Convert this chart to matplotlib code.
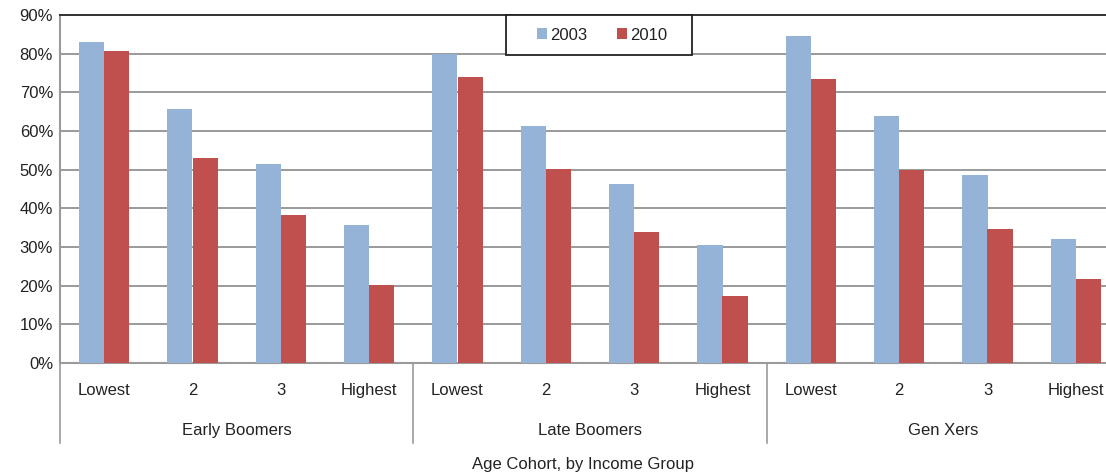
import numpy as np
import matplotlib.pyplot as plt
from matplotlib.lines import Line2D
from matplotlib.patches import Rectangle, Patch
from matplotlib.transforms import blended_transform_factory

plt.rcParams['font.family'] = ['Liberation Sans', 'DejaVu Sans']

# dados
coortes = ['Early Boomers', 'Late Boomers', 'Gen Xers']
grupos_renda = ['Lowest', '2', '3', 'Highest']
valores_2003 = [83.0, 65.8, 51.4, 35.8,
                80.0, 61.2, 46.4, 30.5,
                84.6, 63.8, 48.5, 32.1]
valores_2010 = [80.8, 52.9, 38.2, 20.1,
                73.9, 50.1, 33.8, 17.4,
                73.4, 49.8, 34.6, 21.6]
anos = ['2003', '2010']

cor_2003 = '#95B3D7'
cor_2010 = '#C0504D'
cor_grade = '#9a9a9a'

W, H = 1106, 474
fig = plt.figure(figsize=(W / 100, H / 100), dpi=100)
# area do grafico em pixels: esquerda 60, topo 15, base 363 (continua alem da borda direita)
ax = fig.add_axes([60 / W, (H - 363) / H, (1120 - 60) / W, (363 - 15) / H])

n = len(valores_2003)
x = np.arange(n)
larg = 0.285
ax.bar(x - larg / 2, valores_2003, larg, color=cor_2003, zorder=3)
ax.bar(x + larg / 2, valores_2010, larg, color=cor_2010, zorder=3)

ax.set_xlim(-0.5, n - 0.5)
ax.set_ylim(0, 90)
ax.set_yticks(np.arange(0, 91, 10))
ax.set_yticklabels([f'{v}%' for v in range(0, 91, 10)], fontsize=12, color='#222222')
ax.tick_params(axis='y', length=0, pad=5)
ax.set_xticks([])
ax.yaxis.grid(True, color=cor_grade, linewidth=1.4, zorder=0)
ax.set_axisbelow(True)

for lado in ['left', 'bottom']:
    ax.spines[lado].set_color(cor_grade)
    ax.spines[lado].set_linewidth(1.5)
ax.spines['top'].set_color('#333333')
ax.spines['top'].set_linewidth(1.4)
ax.spines['right'].set_visible(False)

# rotulos em dois niveis no eixo x
trans = blended_transform_factory(ax.transData, ax.transAxes)
alt = 363 - 15
for i in range(n):
    ax.text(x[i], -26 / alt, grupos_renda[i % 4], transform=trans,
            ha='center', va='center_baseline', fontsize=12, color='#222222')
for j, nome in enumerate(coortes):
    ax.text(4 * j + 1.5, -66 / alt, nome, transform=trans,
            ha='center', va='center_baseline', fontsize=12, color='#222222')
for pos in [-0.5, 3.5, 7.5, 11.5]:
    ax.add_line(Line2D([pos, pos], [0, -80 / alt], transform=trans,
                       color=cor_grade, linewidth=1.2, clip_on=False))

fig.text(583 / W, 1 - 463 / H, 'Age Cohort, by Income Group',
         ha='center', va='center_baseline', fontsize=12, color='#222222')

# legenda com moldura propria
fig.patches.append(Rectangle((506 / W, 1 - 55 / H), (692 - 506) / W, 40 / H,
                             transform=fig.transFigure, facecolor='white',
                             edgecolor='#222222', linewidth=1.3, zorder=5))
handles = [Patch(facecolor=cor_2003), Patch(facecolor=cor_2010)]
leg = fig.legend(handles, anos, loc='center', ncol=2, frameon=False,
                 bbox_to_anchor=(602 / W, 1 - 35 / H), fontsize=12,
                 handlelength=0.6, handleheight=0.6, handletextpad=0.2,
                 columnspacing=1.8)
leg.set_zorder(6)
for t in leg.get_texts():
    t.set_color('#222222')

fig.savefig('out.png', dpi=100)
